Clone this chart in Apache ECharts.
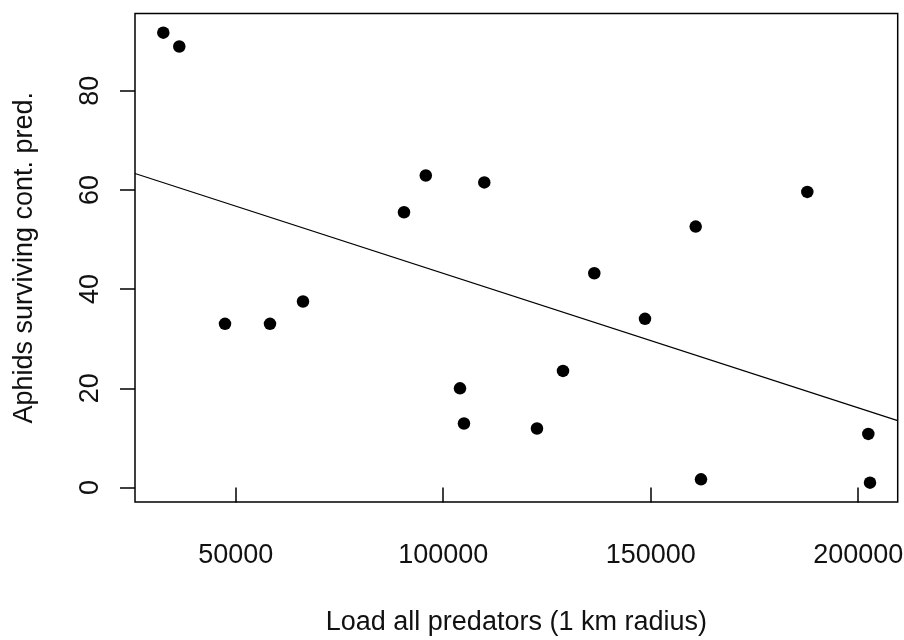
<!DOCTYPE html>
<html>
<head>
<meta charset="utf-8">
<script src="https://cdn.jsdelivr.net/npm/echarts@6/dist/echarts.min.js"></script>
<style>
  html, body { margin: 0; padding: 0; background: #fff; }
  #chart { width: 904px; height: 640px; }
</style>
</head>
<body>
<div id="chart"></div>
<script>
// Data
var predatorLoad = [32554, 36410, 47422, 58265, 66217, 90554, 95807, 109904, 104048, 105012,
                    122602, 128867, 136410, 148627, 160843, 162120, 187735, 202434, 202843];
var aphidsSurviving = [91.7, 88.9, 33.0, 33.0, 37.5, 55.5, 62.9, 61.5, 20.0, 12.9,
                       11.9, 23.5, 43.2, 34.0, 52.6, 1.65, 59.6, 10.8, 0.97];

// Regression line (abline)
var fitIntercept = 70.27;
var fitSlope = -0.000271;

// Axis extents and ticks
var xRange = [25735, 209518];
var yRange = [-2.92, 95.56];
var xTicks = [50000, 100000, 150000, 200000];
var yTicks = [0, 20, 40, 60, 80];

var xTitle = 'Load all predators (1 km radius)';
var yTitle = 'Aphids surviving cont. pred.';

var points = predatorLoad.map(function (x, i) { return [x, aphidsSurviving[i]]; });
var fitLine = xRange.map(function (x) { return [x, fitIntercept + fitSlope * x]; });

var FONT = 'Liberation Sans, Arial, sans-serif';
var TXT = '#111';

var chart = echarts.init(document.getElementById('chart'), null, { renderer: 'canvas' });
chart.setOption({
  animation: false,
  backgroundColor: '#fff',
  grid: {
    left: 135, right: 6.3, top: 13.5, bottom: 138,
    outerBoundsMode: 'none',
    containLabel: false,
    show: true, borderColor: '#000', borderWidth: 1.5, backgroundColor: 'transparent'
  },
  xAxis: {
    type: 'value',
    min: xRange[0], max: xRange[1],
    name: xTitle,
    nameLocation: 'middle',
    nameGap: 107,
    nameTextStyle: { fontFamily: FONT, fontSize: 27, color: TXT },
    axisLine: { show: false },
    splitLine: { show: false },
    axisTick: {
      show: true, customValues: xTicks, length: 15, inside: false,
      lineStyle: { color: '#000', width: 1.5 }
    },
    axisLabel: {
      customValues: xTicks, margin: 40,
      formatter: function (v) { return String(v); },
      fontFamily: FONT, fontSize: 27, color: TXT
    }
  },
  yAxis: {
    type: 'value',
    min: yRange[0], max: yRange[1],
    name: yTitle,
    nameLocation: 'middle',
    nameGap: 97,
    nameRotate: 90,
    nameTextStyle: { fontFamily: FONT, fontSize: 27, color: TXT },
    axisLine: { show: false },
    splitLine: { show: false },
    axisTick: {
      show: true, customValues: yTicks, length: 15, inside: false,
      lineStyle: { color: '#000', width: 1.5 }
    },
    axisLabel: {
      customValues: yTicks, rotate: 90, margin: 31,
      formatter: function (v) { return String(v); },
      fontFamily: FONT, fontSize: 27, color: TXT
    }
  },
  series: [
    {
      type: 'line',
      data: fitLine,
      showSymbol: false,
      symbol: 'none',
      clip: true,
      lineStyle: { color: '#000', width: 1.2 },
      silent: true
    },
    {
      type: 'scatter',
      data: points,
      symbol: 'circle',
      symbolSize: 12.5,
      itemStyle: { color: '#000', opacity: 1 }
    }
  ]
});
</script>
</body>
</html>
